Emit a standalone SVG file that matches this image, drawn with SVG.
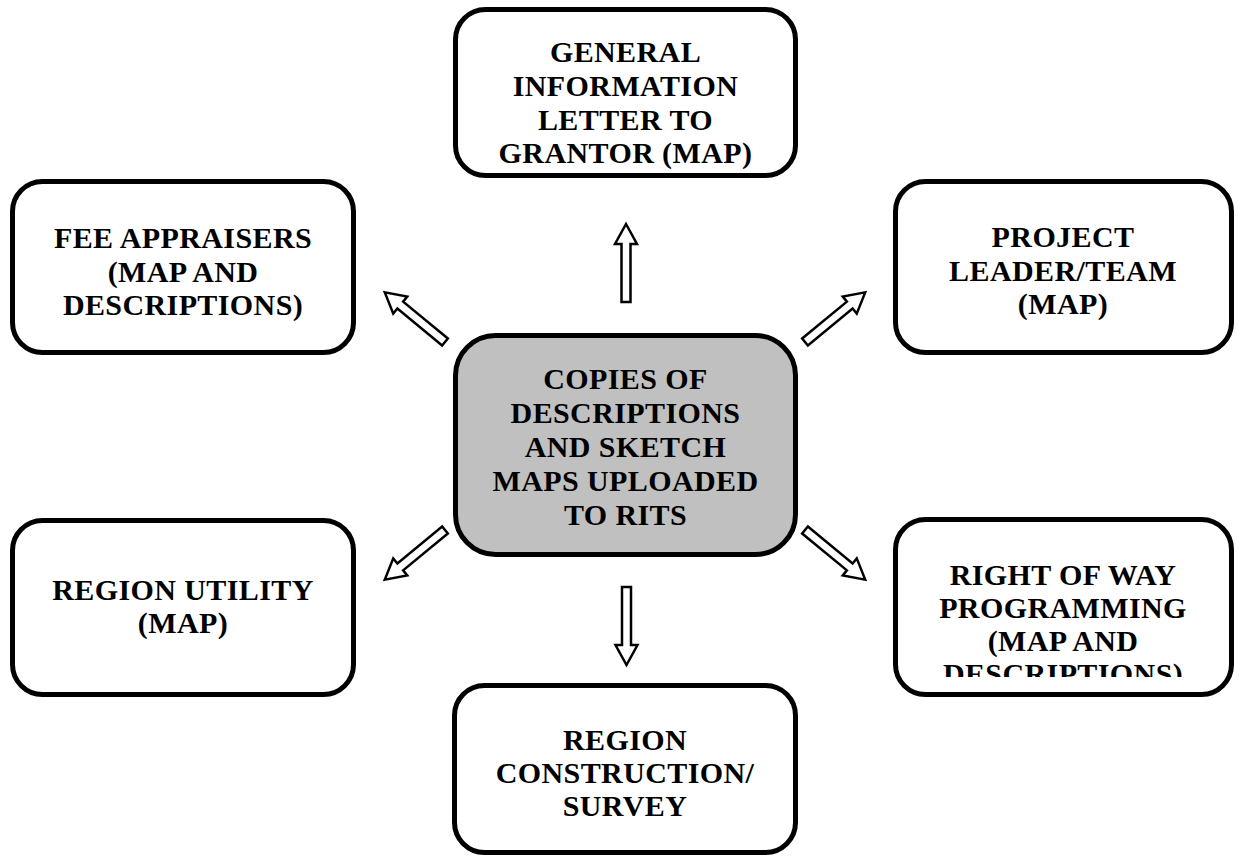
<svg xmlns="http://www.w3.org/2000/svg" width="1239" height="858" viewBox="0 0 1239 858">
<style>
.box{fill:#fff;stroke:#000;stroke-width:5}
.ctr{fill:#c0c0c0;stroke:#000;stroke-width:5}
.t{font-family:"Liberation Serif","Times New Roman",serif;font-weight:bold;font-size:30px;fill:#000;text-anchor:middle;letter-spacing:0.4px}
.arrow{fill:#fff;stroke:#000;stroke-width:2.5;stroke-linejoin:miter}
</style>
<defs>
<path id="arw" d="M0,-4.5 H58 V-11 L78,0 L58,11 V4.5 H0 Z"/>
<clipPath id="clipRow"><rect x="895" y="540" width="337" height="137"/></clipPath>
</defs>
<rect width="1239" height="858" fill="#fff"/>
<g id="connectors">
<use href="#arw" class="arrow" transform="translate(626,302) rotate(-90)"/>
<use href="#arw" class="arrow" transform="translate(626.5,587) rotate(90)"/>
<use href="#arw" class="arrow" transform="translate(445,342) rotate(-140.5)"/>
<use href="#arw" class="arrow" transform="translate(805,342) rotate(-39.5)"/>
<use href="#arw" class="arrow" transform="translate(445,530) rotate(140.5)"/>
<use href="#arw" class="arrow" transform="translate(805,530) rotate(39.5)"/>
</g>
<g id="general">
<rect class="box" x="455.5" y="9.5" width="340" height="166" rx="30"/>
<text class="t" x="625.5" y="62">GENERAL</text>
<text class="t" x="625.5" y="96">INFORMATION</text>
<text class="t" x="625.5" y="130">LETTER TO</text>
<text class="t" x="625.5" y="163">GRANTOR (MAP)</text>
</g>
<g id="fee">
<rect class="box" x="12.5" y="181.5" width="341" height="171" rx="30"/>
<text class="t" x="183" y="248">FEE APPRAISERS</text>
<text class="t" x="183" y="282">(MAP AND</text>
<text class="t" x="183" y="315">DESCRIPTIONS)</text>
</g>
<g id="project">
<rect class="box" x="895.5" y="181.5" width="336" height="171" rx="30"/>
<text class="t" x="1063" y="247">PROJECT</text>
<text class="t" x="1063" y="281">LEADER/TEAM</text>
<text class="t" x="1063" y="314">(MAP)</text>
</g>
<g id="center">
<rect class="ctr" x="455.5" y="335.5" width="340" height="219" rx="40"/>
<text class="t" x="625.5" y="389">COPIES OF</text>
<text class="t" x="625.5" y="423">DESCRIPTIONS</text>
<text class="t" x="625.5" y="457">AND SKETCH</text>
<text class="t" x="625.5" y="491">MAPS UPLOADED</text>
<text class="t" x="625.5" y="525">TO RITS</text>
</g>
<g id="utility">
<rect class="box" x="12.5" y="520.5" width="341" height="174" rx="30"/>
<text class="t" x="183" y="600">REGION UTILITY</text>
<text class="t" x="183" y="633">(MAP)</text>
</g>
<g id="row">
<rect class="box" x="895.5" y="519.5" width="336" height="175" rx="30"/>
<g clip-path="url(#clipRow)">
<text class="t" x="1063" y="585">RIGHT OF WAY</text>
<text class="t" x="1063" y="618">PROGRAMMING</text>
<text class="t" x="1063" y="651">(MAP AND</text>
<text class="t" x="1063" y="684">DESCRIPTIONS)</text>
</g>
</g>
<g id="construction">
<rect class="box" x="454.5" y="685.5" width="341" height="167" rx="30"/>
<text class="t" x="625" y="750">REGION</text>
<text class="t" x="625" y="783">CONSTRUCTION/</text>
<text class="t" x="625" y="816">SURVEY</text>
</g>
</svg>
